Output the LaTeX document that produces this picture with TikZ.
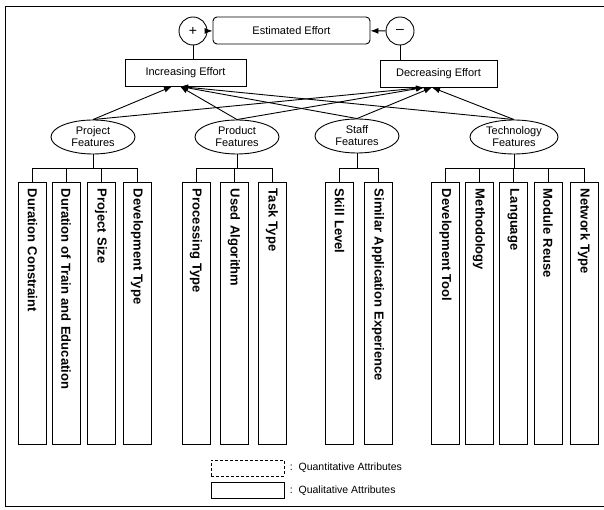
\documentclass[tikz,border=0pt]{standalone}
\usepackage{fontspec}
\setmainfont{Liberation Sans}
\usetikzlibrary{arrows.meta,shapes.geometric}
\begin{document}
\begin{tikzpicture}[x=1pt,y=1pt,
  line width=0.9pt,
  every node/.style={inner sep=0pt},
  sign/.style={draw,circle,minimum size=28pt,font=\fontsize{14}{14}\selectfont},
  topbox/.style={draw,rectangle,minimum height=27pt,font=\fontsize{11}{12}\selectfont},
  feat/.style={draw,ellipse,minimum width=84pt,minimum height=34pt,align=center,
    font=\fontsize{11}{12}\selectfont},
  attr/.style={draw,rectangle,rotate=-90,minimum height=28pt,text width=248pt,
    inner xsep=7pt,align=left,font=\bfseries\fontsize{13}{14}\selectfont},
  legbox/.style={draw,rectangle,minimum width=73pt,minimum height=16pt},
  legtext/.style={anchor=west,font=\fontsize{10.5}{12}\selectfont},
  arr/.style={-{Latex[length=8pt,width=6pt]}},
]
\useasboundingbox (0,0) rectangle (604,509);
% open frame
\draw (606,503) -- (5,503) -- (5,3) -- (606,3);

% top row
\node[sign] (plus) at (193,478) {+};
\node[topbox,rounded corners=4pt,minimum width=157pt] (est) at (291.5,478.5) {Estimated Effort};
\node[sign] (minus) at (400,478) {--};
\node[topbox,minimum width=121pt] (inc) at (185.5,436) {Increasing Effort};
\node[topbox,minimum width=117pt] (dec) at (438.5,435) {Decreasing Effort};

\draw[arr] (plus) -- (est);
\draw[arr] (minus) -- (est);
\draw (plus) -- (plus |- inc.north);
\draw (minus) -- (minus |- dec.north);

% feature groups
\node[feat] (proj) at (93,372) {Project\\Features};
\node[feat] (prod) at (237,372) {Product\\Features};
\node[feat] (staff) at (357,373) {Staff\\Features};
\node[feat,minimum width=88pt] (tech) at (514,372) {Technology\\Features};

\coordinate (inc1) at (172,422.5);
\coordinate (inc2) at (180,422.5);
\coordinate (dec1) at (424,421.5);
\coordinate (dec2) at (432,421.5);
\draw[arr] (proj.north) -- (inc1);
\draw[arr] (proj.north) -- (dec1);
\draw[arr] (prod.north) -- (inc2);
\draw[arr] (prod.north) -- (dec1);
\draw[arr] (staff.north) -- (inc2);
\draw[arr] (staff.north) -- (dec2);
\draw[arr] (tech.north) -- (inc2);
\draw[arr] (tech.north) -- (dec2);

% attribute columns
\foreach \n/\x/\t in {a1/32.5/Duration Constraint,a2/66/Duration of Train and Education,
  a3/101/Project Size,a4/137/Development Type,
  b1/196/Processing Type,b2/234/Used Algorithm,b3/272/Task Type,
  c1/339.5/Skill Level,c2/378/Similar Application Experience,
  d1/445.5/Development Tool,d2/479/Methodology,d3/513.5/Language,d4/548/Module Reuse,d5/584/Network Type}
  \node[attr] (\n) at (\x,196) {\t};

% brackets joining each group to its columns
\draw (proj.south) -- (proj.south |- 0,341);
\draw (a1.west) |- (a4.west |- 0,341) -- (a4.west);
\draw (a2.west) -- (a2.west |- 0,341);
\draw (a3.west) -- (a3.west |- 0,341);

\draw (prod.south) -- (prod.south |- 0,341);
\draw (b1.west) |- (b3.west |- 0,341) -- (b3.west);
\draw (b2.west) -- (b2.west |- 0,341);

\draw (staff.south) -- (staff.south |- 0,341);
\draw (c1.west) |- (c2.west |- 0,341) -- (c2.west);

\draw (tech.south) -- (tech.south |- 0,341);
\draw (d1.west) |- (d5.west |- 0,341) -- (d5.west);
\draw (d2.west) -- (d2.west |- 0,341);
\draw (d3.west) -- (d3.west |- 0,341);
\draw (d4.west) -- (d4.west |- 0,341);

% legend
\node[legbox,densely dashed] (lq) at (247.5,41) {};
\node[legbox] (ll) at (247.5,18.5) {};
\node[legtext] (tq) at ([xshift=5pt]lq.east) {:\ \ Quantitative Attributes};
\node[legtext] (tl) at ([xshift=5pt]ll.east) {:\ \ Qualitative Attributes};
\end{tikzpicture}
\end{document}
